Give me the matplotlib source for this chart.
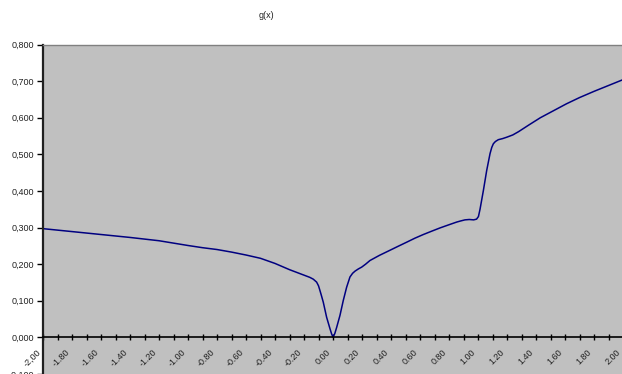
import matplotlib
matplotlib.use("Agg")
import matplotlib.pyplot as plt
import matplotlib.transforms as mtransforms

# g(x) sampled over [-2, 2]
x_vals = [-2.00, -1.80, -1.60, -1.40, -1.20, -1.00, -0.90, -0.80, -0.70, -0.60,
          -0.50, -0.40, -0.30, -0.20, -0.16, -0.136, -0.113, -0.100, -0.090,
          -0.079, -0.067, -0.044, -0.021, -0.010, 0.000, 0.012, 0.025, 0.048,
          0.071, 0.094, 0.117, 0.135, 0.152, 0.175, 0.198, 0.225, 0.255, 0.320,
          0.393, 0.450, 0.508, 0.565, 0.623, 0.680, 0.738, 0.795, 0.853, 0.880,
          0.910, 0.940, 0.970, 0.990, 1.003, 1.014, 1.037, 1.060, 1.083, 1.095,
          1.106, 1.120, 1.140, 1.170, 1.200, 1.240, 1.280, 1.350, 1.430, 1.520,
          1.610, 1.700, 1.800, 1.900, 2.000]
g_vals = [0.297, 0.289, 0.281, 0.273, 0.264, 0.251, 0.245, 0.240, 0.233, 0.225,
          0.216, 0.202, 0.185, 0.170, 0.164, 0.159, 0.151, 0.141, 0.128,
          0.113, 0.096, 0.055, 0.024, 0.010, 0.001, 0.010, 0.027, 0.060,
          0.101, 0.137, 0.165, 0.175, 0.181, 0.187, 0.192, 0.200, 0.210, 0.224,
          0.238, 0.249, 0.260, 0.271, 0.281, 0.290, 0.299, 0.307, 0.315, 0.318,
          0.321, 0.322, 0.321, 0.323, 0.330, 0.350, 0.401, 0.456, 0.502, 0.519,
          0.529, 0.535, 0.540, 0.543, 0.547, 0.553, 0.562, 0.580, 0.600, 0.619,
          0.638, 0.655, 0.672, 0.688, 0.704]

x_labels = ["-2,00", "-1.80", "-1.60", "-1.40", "-1.20", "-1.00", "-0.80", "-0.60",
            "-0.40", "-0.20", "0.00", "0.20", "0.40", "0.60", "0.80", "1.00",
            "1.20", "1.40", "1.60", "1.80", "2.00"]
x_minor = [-1.9, -1.7, -1.5, -1.3, -1.1, -0.9, -0.7, -0.5, -0.3, -0.1,
           0.1, 0.3, 0.5, 0.7, 0.9, 1.1, 1.3, 1.5, 1.7, 1.9]
y_ticks = [-0.1, 0.0, 0.1, 0.2, 0.3, 0.4, 0.5, 0.6, 0.7, 0.8]

plt.rcParams["font.family"] = ["Liberation Sans", "DejaVu Sans"]
fs = 6.5

fig = plt.figure(figsize=(6.22, 3.74), dpi=100)
ax = fig.add_axes([43 / 622, 0.0, 580 / 622, 329.5 / 374])
ax.set_facecolor("#C0C0C0")

ax.plot(x_vals, g_vals, color="#000080", lw=1.1, solid_joinstyle="round")

ax.set_xlim(-2.0, 2.0)
ax.set_ylim(-0.1, 0.8)

# x axis sits on y = 0
ax.spines["bottom"].set_position(("data", 0))
ax.spines["bottom"].set_color("black")
ax.spines["bottom"].set_linewidth(1.2)
ax.spines["left"].set_color("#202020")
ax.spines["left"].set_linewidth(1.6)
ax.spines["top"].set_color("#808080")
ax.spines["top"].set_linewidth(1.0)
ax.spines["right"].set_visible(False)

x_pos = [float(s.replace(",", ".")) for s in x_labels]
ax.set_xticks(x_pos)
ax.set_xticklabels(x_labels, rotation=45, ha="right", va="center",
                   rotation_mode="anchor", fontsize=fs, color="#222222")
ax.set_xticks(x_minor, minor=True)
ax.tick_params(axis="x", which="both", direction="inout", length=5,
               width=1.0, color="black", pad=7)
shift = mtransforms.ScaledTranslation(-4 / 100, 0, fig.dpi_scale_trans)
for lab in ax.get_xticklabels():
    lab.set_transform(lab.get_transform() + shift)

ax.set_yticks(y_ticks)
ax.set_yticklabels([f"{v:.3f}".replace(".", ",") for v in y_ticks],
                   fontsize=fs, color="#222222")
ax.tick_params(axis="y", direction="out", length=4, width=1.0,
               color="black", pad=2.5)

fig.text(266.5 / 622, 1 - 16 / 374, "g(x)", ha="center", va="center",
         fontsize=fs, color="#222222")

fig.savefig("out.png", dpi=100, facecolor="white")
